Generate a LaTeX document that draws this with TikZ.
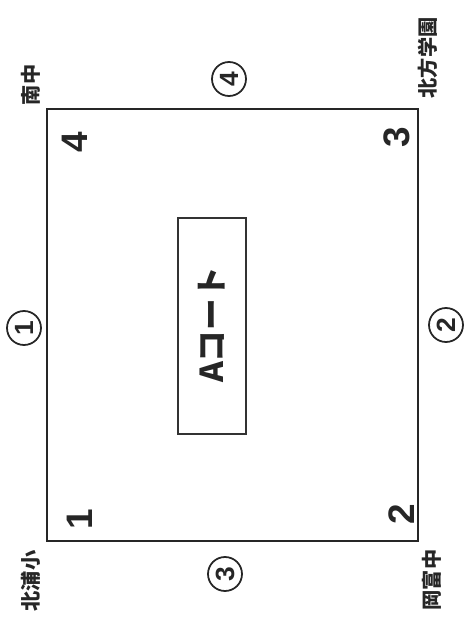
\documentclass[tikz,border=0pt]{standalone}
\usepackage{fontspec}
\setmainfont{Liberation Sans}
\newfontfamily\jpfont{Noto Sans CJK JP}
\usetikzlibrary{shapes}
\usetikzlibrary{positioning}

\begin{document}
\begin{tikzpicture}
	\tikzstyle{courtbox} = [rectangle, draw=black!85, line width=1.7pt, minimum width=7.42cm, minimum height=8.64cm, inner sep=0pt]
	\tikzstyle{titlebox} = [rectangle, draw=black!80, line width=0.9pt, minimum width=1.36cm, minimum height=4.32cm, inner sep=0pt]
	\tikzstyle{corner} = [rotate=90, font=\bfseries\fontsize{21}{23}\selectfont, text=black!85]
	\tikzstyle{side} = [circle, draw=black!85, line width=1pt, minimum size=0.68cm, inner sep=0pt, rotate=90, font=\bfseries\fontsize{15}{16}\selectfont, text=black!85]
	\tikzstyle{school} = [rotate=90, font=\jpfont\bfseries\fontsize{11.5}{13}\selectfont, text=black!85]
	\useasboundingbox (0, 0) rectangle (9.38, 12.58);
	\node (acourt)[courtbox] at (4.65, 6.08) {};
	\node (frame)[titlebox] at (4.24, 6.06) {};
	\node (title)[rotate=90, font=\jpfont\bfseries\fontsize{18}{20}\selectfont, text=black!85] at (4.24, 6.08) {Aコート};
	\node (c4)[corner] at (1.50, 9.74) {4};
	\node (c3)[corner] at (7.94, 9.84) {3};
	\node (c1)[corner] at (1.60, 2.20) {1};
	\node (c2)[corner] at (8.04, 2.30) {2};
	\node (s1)[side] at (0.48, 6.02) {1};
	\node (s2)[side] at (8.92, 6.08) {2};
	\node (s3)[side] at (4.50, 1.10) {3};
	\node (s4)[side] at (4.58, 11.00) {4};
	\node (nanchu)[school] at (0.62, 10.88) {南中};
	\node (hoppo)[school] at (8.56, 11.42) {北方学園};
	\node (kitaura)[school] at (0.62, 0.96) {北浦小};
	\node (okatomi)[school] at (8.64, 0.98) {岡富中};
\end{tikzpicture}
\end{document}
